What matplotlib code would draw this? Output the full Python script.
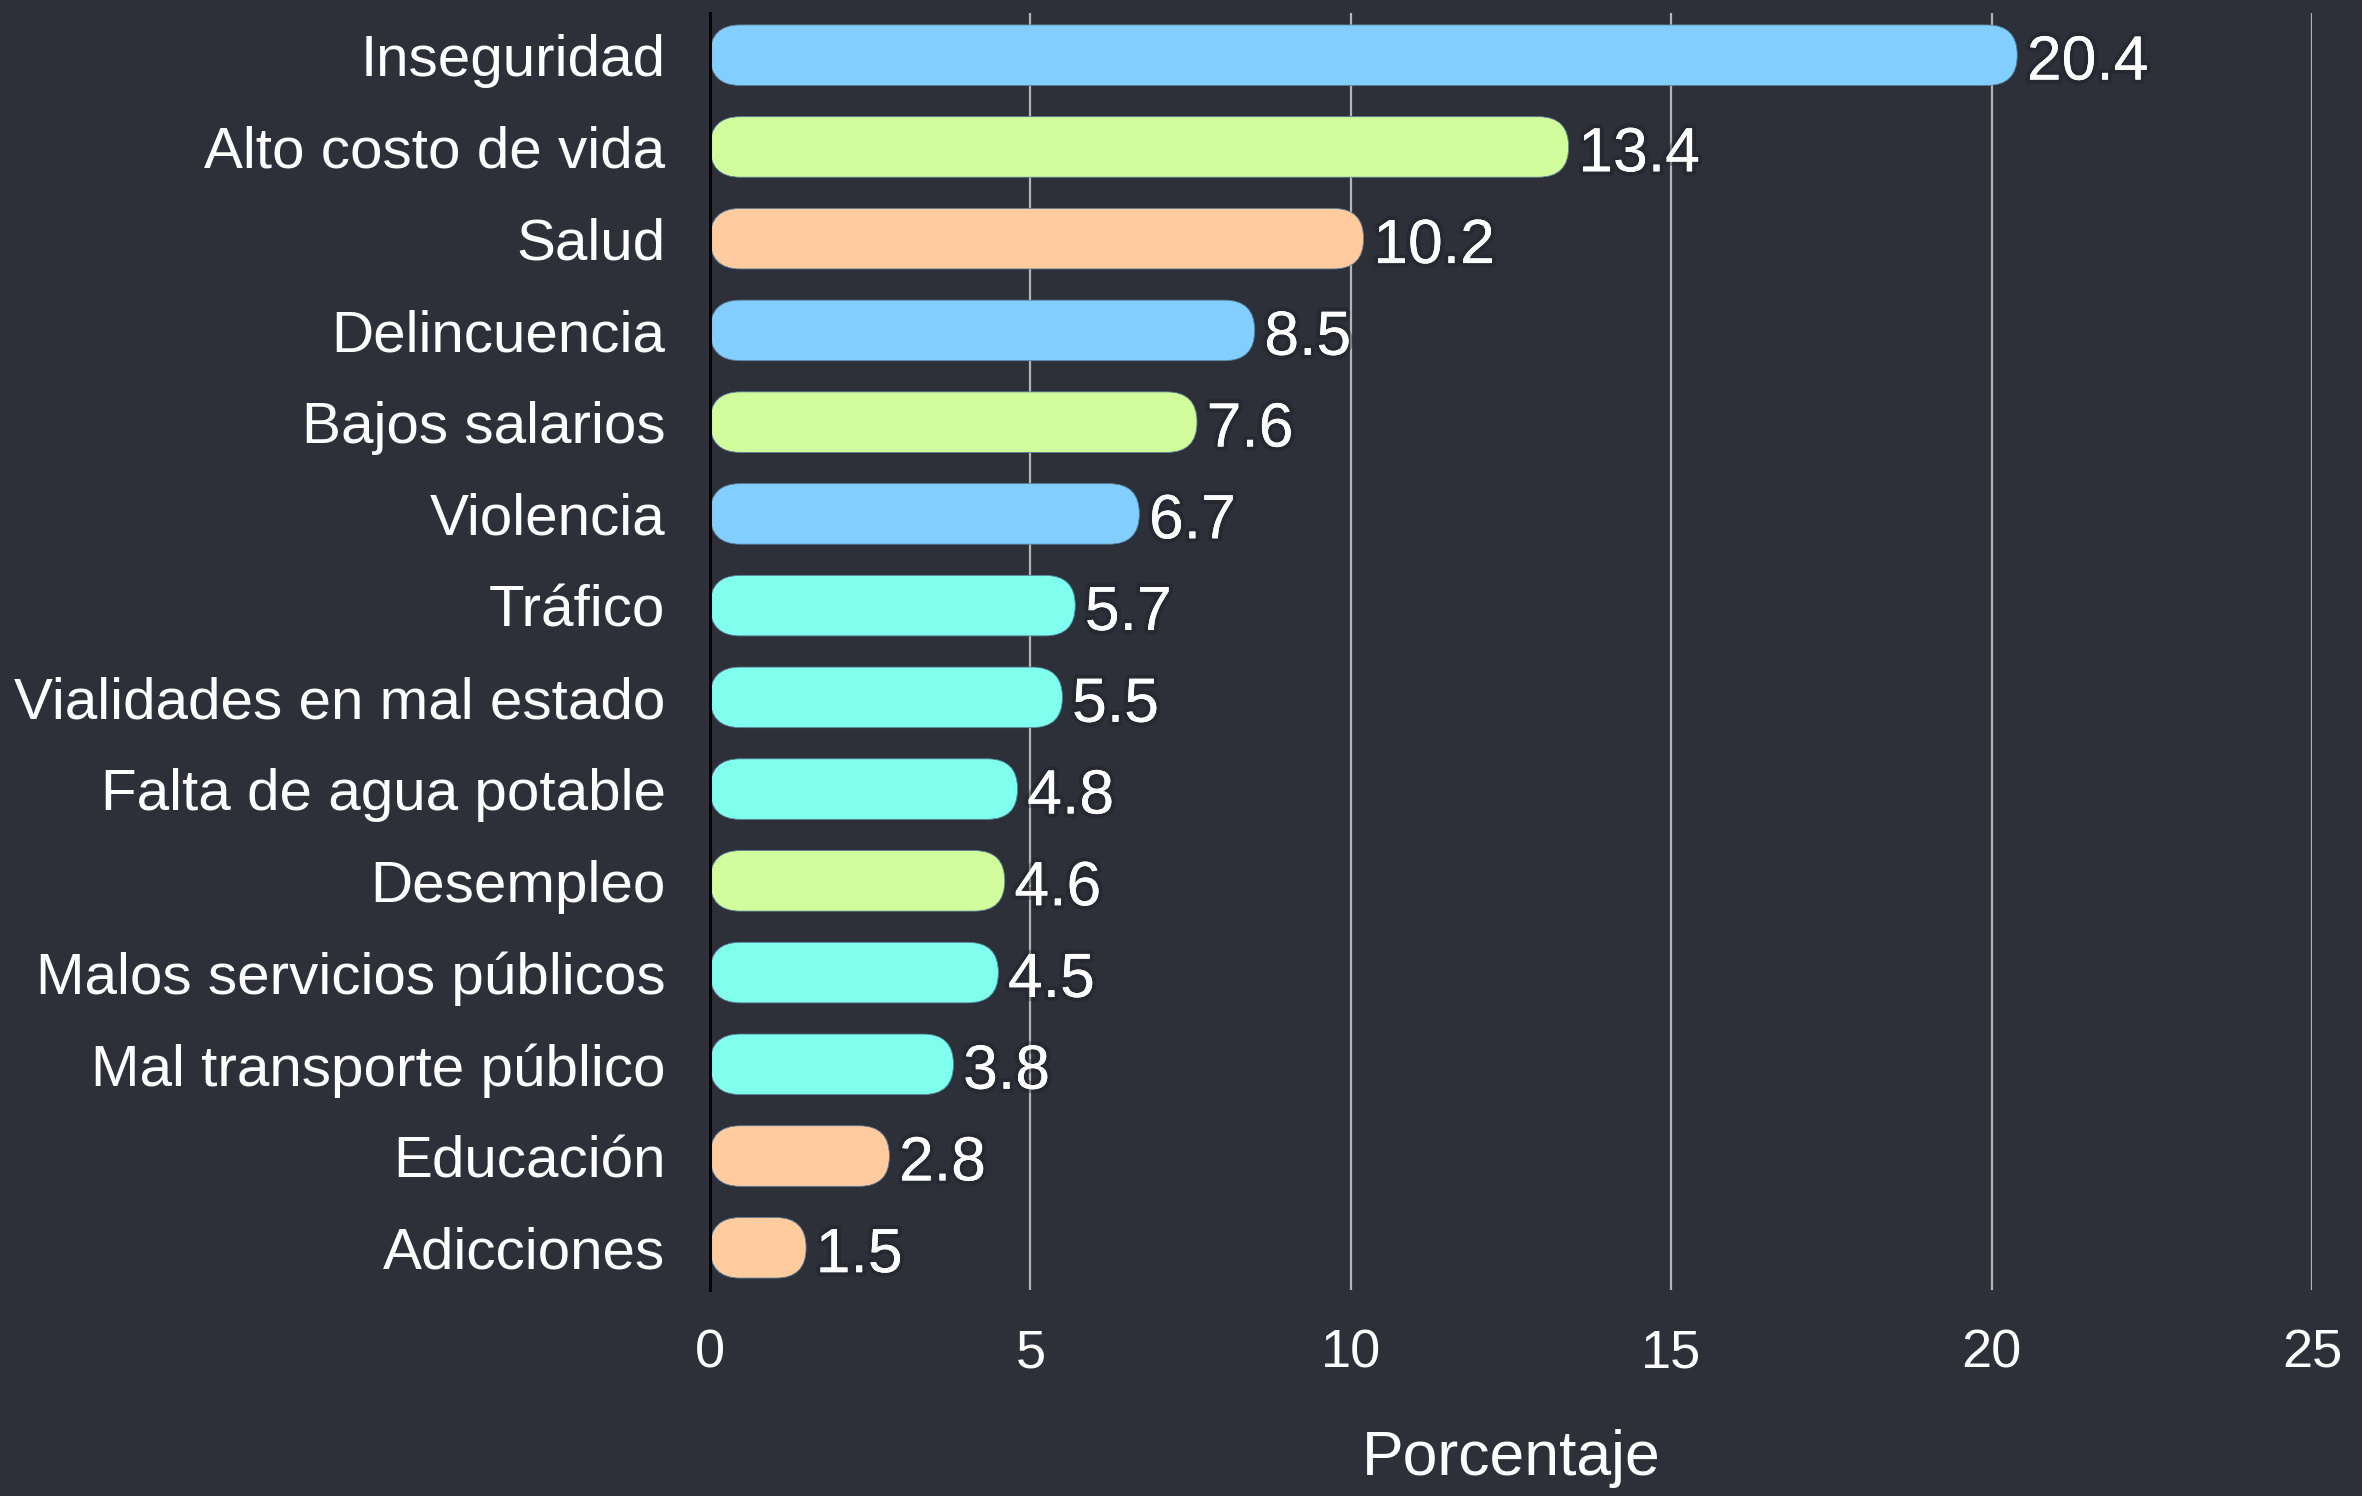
#Horizontal bar chart of the main problems (percentages), rounded bars on dark background

import matplotlib.pyplot as plt
import matplotlib.patheffects as pe
from matplotlib.patches import FancyBboxPatch

problemas = ['Inseguridad', 'Alto costo de vida', 'Salud', 'Delincuencia',
             'Bajos salarios', 'Violencia', 'Tráfico', 'Vialidades en mal estado',
             'Falta de agua potable', 'Desempleo', 'Malos servicios públicos',
             'Mal transporte público', 'Educación', 'Adicciones']
porcentajes = [20.4, 13.4, 10.2, 8.5, 7.6, 6.7, 5.7, 5.5, 4.8, 4.6, 4.5, 3.8, 2.8, 1.5]
x_ticks = [0, 5, 10, 15, 20, 25]

azul = '#82cfff'
verde = '#d2fd9c'
durazno = '#ffcb9f'
turquesa = '#80ffee'
colores = [azul, verde, durazno, azul, verde, azul, turquesa, turquesa,
           turquesa, verde, turquesa, turquesa, durazno, durazno]

fondo = '#2d3039'
plt.rcParams['font.family'] = ['Liberation Sans', 'DejaVu Sans']

W, H, DPI = 2362, 1496, 200
fig = plt.figure(figsize=(W / DPI, H / DPI), dpi=DPI, facecolor=fondo)
# axes placed in pixel terms of the reference
left, right, top, bottom = 710, 2312, 13, 1290
ax = fig.add_axes([left / W, 1 - bottom / H, (right - left) / W, (bottom - top) / H])
ax.set_facecolor(fondo)

n = len(problemas)
alto = 0.66
ax.set_xlim(0, 25)
ax.set_ylim(n - 1 + 0.46, -0.46)

# aspect between data units in y and x (per pixel) so the ends are true half circles
px_x = (right - left) / 25.0
px_y = (bottom - top) / (n - 1 + 0.92)
aspecto = px_x / px_y
radio = alto / 2 / aspecto * 0.995

for i, (v, c) in enumerate(zip(porcentajes, colores)):
    barra = FancyBboxPatch((0, i - alto / 2), v, alto,
                           boxstyle='round,pad=0,rounding_size=%f' % radio,
                           mutation_aspect=aspecto, facecolor=c,
                           edgecolor='#5a7f99', linewidth=0.3, zorder=3)
    ax.add_patch(barra)
    t = ax.text(v + 0.15, i + 0.015, '%.1f' % v, color='white', fontsize=22.5,
                va='center_baseline', ha='left', zorder=4)
    t.set_path_effects([pe.withStroke(linewidth=3, foreground='#1c1e25', alpha=0.35),
                        pe.Normal()])

ax.set_yticks(range(n))
ax.set_yticklabels(problemas, fontsize=21, color='white')
ax.set_xticks(x_ticks)
ax.set_xticklabels([str(x) for x in x_ticks], fontsize=19.5, color='white')
ax.tick_params(axis='y', length=0, pad=16)
ax.tick_params(axis='x', length=0, pad=14)

ax.grid(axis='x', color='#b4b4b4', linewidth=0.8, zorder=1)
ax.set_axisbelow(True)
for s in ['top', 'right', 'bottom']:
    ax.spines[s].set_visible(False)
ax.spines['left'].set_color('black')
ax.spines['left'].set_linewidth(1.1)
ax.spines['left'].set_zorder(5)

ax.set_xlabel('Porcentaje', fontsize=22.5, color='white', labelpad=18)

plt.savefig('out.png', dpi=DPI, facecolor=fondo)
